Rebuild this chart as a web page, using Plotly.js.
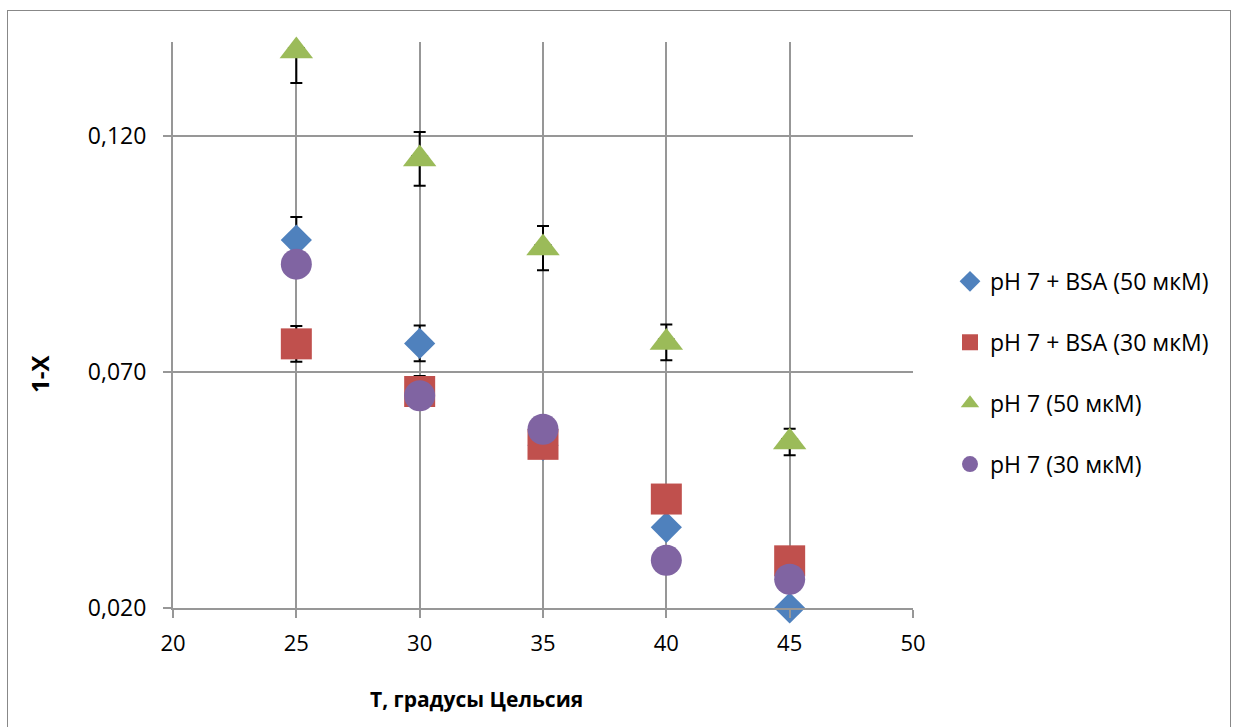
<!DOCTYPE html>
<html>
<head>
<meta charset="utf-8">
<script src="https://cdn.plot.ly/plotly-3.0.1.min.js"></script>
<style>
  html, body { margin: 0; padding: 0; background: #fff; }
  #wrap { position: relative; width: 1234px; height: 727px; overflow: hidden; }
  #chart { position: absolute; left: 0; top: 0; width: 1234px; height: 727px; }
  #frame { position: absolute; left: 7px; top: 10px; width: 1222px; height: 760px;
           border: 1px solid #888888; pointer-events: none; }
</style>
</head>
<body>
<div id="wrap">
  <div id="chart"></div>
  <div id="frame"></div>
</div>
<script>
// Temperature, °C
const temperature = [25, 30, 35, 40, 45];

// 1-X values per series
const bsa50 = [0.0980, 0.0761, 0.0545, 0.0371, 0.0200];
const bsa50Err = [0.0049, 0.0038, 0.0010, 0.0010, 0.0010];

const bsa30 = [0.0760, 0.0659, 0.0547, 0.0431, 0.0300];
const bsa30Err = [0.0038, 0.0033, 0.0010, 0.0010, 0.0010];

const ph50 = [0.1381, 0.1152, 0.0963, 0.0763, 0.0552];
const ph50Err = [0.0068, 0.0057, 0.0047, 0.0038, 0.0028];
const ph50ErrX = 0.3;

const ph30 = [0.0929, 0.0650, 0.0579, 0.0301, 0.0261];

const seriesNames = ['pH 7 + BSA (50 мкМ)', 'pH 7 + BSA (30 мкМ)', 'pH 7 (50 мкМ)', 'pH 7 (30 мкМ)'];
const yTicks = [0.02, 0.07, 0.12];
const xTitle = 'T, градусы Цельсия';
const yTitle = '1-X';

const errStyle = (arr) => ({ type: 'data', array: arr, visible: true, color: '#000000', thickness: 2, width: 6 });

const traces = [
  { x: temperature, y: bsa50, name: seriesNames[0], type: 'scatter', mode: 'markers', legendgroup: 'a',
    marker: { symbol: 'diamond', size: 24, color: '#4F81BD' }, error_y: errStyle(bsa50Err), cliponaxis: false },
  { x: temperature, y: bsa30, name: seriesNames[1], type: 'scatter', mode: 'markers', legendgroup: 'b',
    marker: { symbol: 'square', size: 31, color: '#C0504D' }, error_y: errStyle(bsa30Err), cliponaxis: false },
  { x: temperature, y: ph50, name: seriesNames[2], type: 'scatter', mode: 'markers', legendgroup: 'c',
    marker: { symbol: 'triangle-up', size: 29, color: '#9BBB59' }, error_y: errStyle(ph50Err),
    error_x: { type: 'constant', value: ph50ErrX, visible: true, color: '#000000', thickness: 2, width: 4 }, cliponaxis: false },
  { x: temperature, y: ph30, name: seriesNames[3], type: 'scatter', mode: 'markers', legendgroup: 'd',
    marker: { symbol: 'circle', size: 31, color: '#8064A2' }, cliponaxis: false }
];

const gridColor = '#979797';
const layout = {
  width: 1234, height: 727,
  margin: { l: 173, r: 321, t: 42, b: 119 },
  paper_bgcolor: 'rgba(0,0,0,0)', plot_bgcolor: 'rgba(0,0,0,0)',
  separators: ',.',
  showlegend: true,
  font: { family: 'Open Sans, sans-serif', color: '#000000' },
  xaxis: {
    range: [20, 50], tick0: 20, dtick: 5, tickmode: 'linear',
    showgrid: true, gridcolor: gridColor, gridwidth: 2,
    showline: true, linecolor: gridColor, linewidth: 2,
    ticks: 'outside', ticklen: 8, tickcolor: gridColor, tickwidth: 2,
    zeroline: false, tickfont: { size: 22, family: 'Open Sans, sans-serif' },
    ticklabelstandoff: 7
  },
  yaxis: {
    range: [0.02, 0.14], tickmode: 'array', tickvals: yTicks, tickformat: '.3f',
    showgrid: true, gridcolor: gridColor, gridwidth: 2,
    showline: true, linecolor: gridColor, linewidth: 2,
    ticks: 'outside', ticklen: 8, tickcolor: gridColor, tickwidth: 2,
    zeroline: false, tickfont: { size: 23, family: 'Open Sans, sans-serif' },
    ticklabelstandoff: 12
  },
  legend: {
    x: 1.05, xanchor: 'left', y: 0.615, yanchor: 'top',
    bgcolor: 'rgba(0,0,0,0)', font: { size: 23, family: 'Open Sans, sans-serif' },
    traceorder: 'grouped', tracegroupgap: 28, itemwidth: 30
  },
  annotations: [
    { text: '<b>' + xTitle + '</b>', xref: 'paper', yref: 'paper', x: (476 - 173) / 740, y: -(699 - 608) / 566,
      xanchor: 'center', yanchor: 'middle', showarrow: false, font: { size: 21, family: 'Open Sans, sans-serif' } },
    { text: '<b>' + yTitle + '</b>', xref: 'paper', yref: 'paper', x: -(173 - 40) / 740, y: (608 - 374) / 566,
      xanchor: 'center', yanchor: 'middle', textangle: -90, showarrow: false, font: { size: 24, family: 'Open Sans, sans-serif' } }
  ]
};

Plotly.newPlot('chart', traces, layout, { staticPlot: true, displayModeBar: false });
</script>
</body>
</html>
